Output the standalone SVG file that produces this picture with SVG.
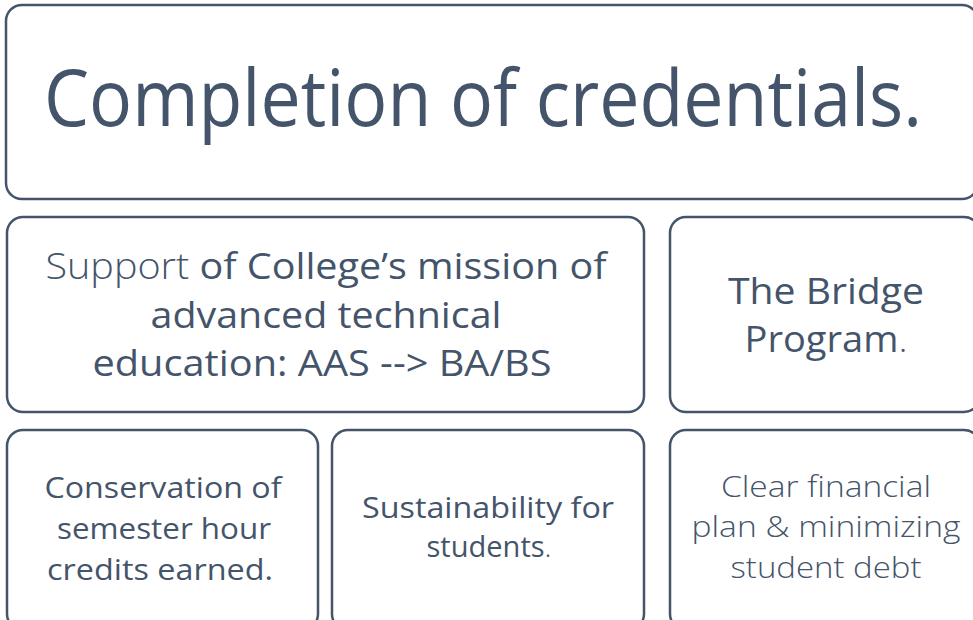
<svg xmlns="http://www.w3.org/2000/svg" width="973" height="620" viewBox="0 0 973 620">
<style>
.box{fill:#ffffff;stroke:#44546A;stroke-width:2.5}
.t{font-family:"Open Sans","Noto Sans","Liberation Sans",sans-serif;fill:#44546A;text-anchor:middle}
.l{font-weight:300}
</style>
<rect width="973" height="620" fill="#ffffff"/>
<g id="node-completion">
<rect class="box" x="6" y="5" width="972" height="194" rx="16"/>
<text class="t" x="483" y="126" font-size="78" textLength="878" lengthAdjust="spacingAndGlyphs">Completion of credentials.</text>
</g>
<g id="node-support">
<rect class="box" x="7" y="217" width="637" height="195" rx="16"/>
<text class="t" x="326" y="279" font-size="37" textLength="561" lengthAdjust="spacingAndGlyphs"><tspan class="l">Support</tspan> of College’s mission of</text>
<text class="t" x="326" y="328" font-size="37" textLength="351" lengthAdjust="spacingAndGlyphs">advanced technical</text>
<text class="t" x="322" y="376" font-size="37" textLength="459" lengthAdjust="spacingAndGlyphs">education: AAS --&gt; BA/BS</text>
</g>
<g id="node-bridge">
<rect class="box" x="670" y="217" width="310" height="195" rx="16"/>
<text class="t" x="826" y="304" font-size="37" textLength="196" lengthAdjust="spacingAndGlyphs">The Bridge</text>
<text class="t" x="826" y="352" font-size="37" textLength="163" lengthAdjust="spacingAndGlyphs">Program<tspan class="l">.</tspan></text>
</g>
<g id="node-conservation">
<rect class="box" x="7" y="430" width="311" height="200" rx="16"/>
<text class="t" x="163" y="498" font-size="30" textLength="237" lengthAdjust="spacingAndGlyphs">Conservation of</text>
<text class="t" x="164" y="539" font-size="30" textLength="214" lengthAdjust="spacingAndGlyphs">semester hour</text>
<text class="t" x="160" y="580" font-size="30" textLength="226" lengthAdjust="spacingAndGlyphs">credits earned.</text>
</g>
<g id="node-sustainability">
<rect class="box" x="332" y="430" width="312" height="200" rx="16"/>
<text class="t" x="488" y="518" font-size="30" textLength="252" lengthAdjust="spacingAndGlyphs">Sustainability for</text>
<text class="t" x="489" y="557" font-size="30" textLength="125" lengthAdjust="spacingAndGlyphs">students<tspan class="l">.</tspan></text>
</g>
<g id="node-financial">
<rect class="box" x="670" y="430" width="310" height="200" rx="16"/>
<text class="t l" x="826" y="497" font-size="30" textLength="210" lengthAdjust="spacingAndGlyphs">Clear financial</text>
<text class="t l" x="826" y="537" font-size="30" textLength="269" lengthAdjust="spacingAndGlyphs">plan &amp; minimizing</text>
<text class="t l" x="826" y="578" font-size="30" textLength="191" lengthAdjust="spacingAndGlyphs">student debt</text>
</g>
<g id="connectors"></g>
</svg>
